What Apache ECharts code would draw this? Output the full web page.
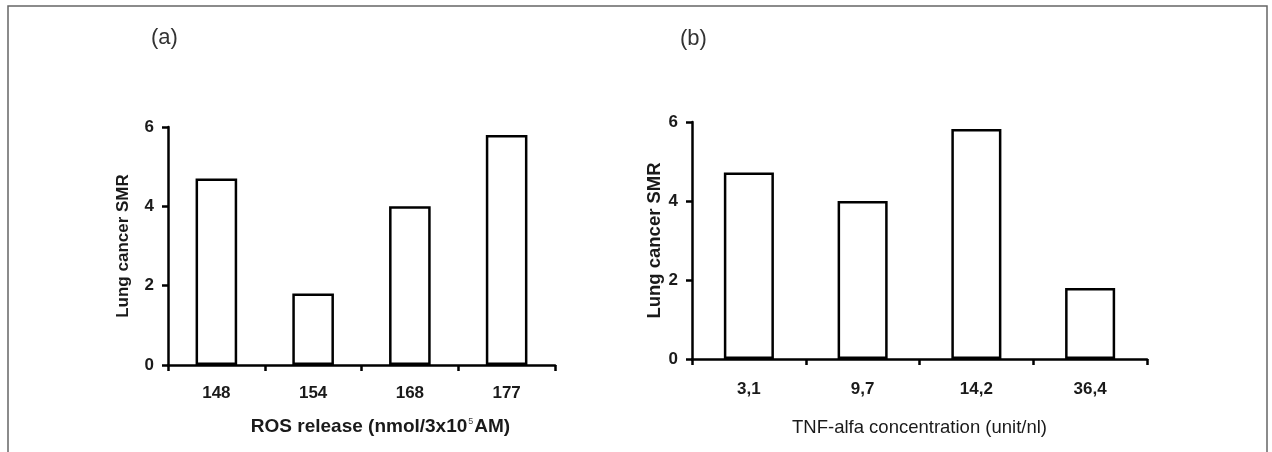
<!DOCTYPE html>
<html>
<head>
<meta charset="utf-8">
<script src="https://cdn.jsdelivr.net/npm/echarts@6/dist/echarts.min.js"></script>
<style>
html,body{margin:0;padding:0;background:#fff;}
#c{width:1272px;height:452px;}
</style>
</head>
<body>
<div id="c"></div>
<script>
const catsA = ['148', '154', '168', '177'];
const valsA = [4.7, 1.8, 4.0, 5.8];
const catsB = ['3,1', '9,7', '14,2', '36,4'];
const valsB = [4.72, 4.0, 5.82, 1.8];
const yTicks = [0, 2, 4, 6];

const FONT = '"Liberation Sans", Arial, sans-serif';
const chart = echarts.init(document.getElementById('c'), null, {renderer: 'canvas'});

function xAxisCfg(idx, cats, name, nameGap, nameStyle) {
  return {
    type: 'category', gridIndex: idx, data: cats,
    axisLine: {lineStyle: {color: '#000', width: 2.5}},
    axisTick: {show: true, inside: false, length: 6, alignWithLabel: false, lineStyle: {color: '#000', width: 2.5}},
    axisLabel: {color: '#1a1a1a', fontFamily: FONT, fontWeight: 'bold', fontSize: 17, margin: idx === 0 ? 20 : 22},
    name: name, nameLocation: 'middle', nameGap: nameGap,
    nameTextStyle: nameStyle
  };
}
function yAxisCfg(idx, nameGap) {
  return {
    type: 'value', gridIndex: idx, min: yTicks[0], max: yTicks[yTicks.length - 1], interval: 2,
    splitLine: {show: false},
    axisLine: {show: true, lineStyle: {color: '#000', width: 2.5}},
    axisTick: {show: true, inside: false, length: 6, lineStyle: {color: '#000', width: 2.5}},
    axisLabel: {color: '#1a1a1a', fontFamily: FONT, fontWeight: 'bold', fontSize: 17, margin: 14},
    name: 'Lung cancer SMR', nameLocation: 'middle', nameGap: nameGap, nameRotate: 90,
    nameTextStyle: {color: '#1a1a1a', fontFamily: FONT, fontWeight: 'bold', fontSize: idx === 0 ? 17 : 18.5}
  };
}

const option = {
  backgroundColor: '#fff',
  animation: false,
  title: [
    {text: '(a)', left: 146, top: 22, textStyle: {color: '#333', fontFamily: FONT, fontWeight: 'normal', fontSize: 22}},
    {text: '(b)', left: 675, top: 23, textStyle: {color: '#333', fontFamily: FONT, fontWeight: 'normal', fontSize: 22}}
  ],
  graphic: [{
    type: 'polyline',
    shape: {points: [[8, 460], [8, 6], [1267, 6], [1267, 460]]},
    style: {stroke: '#666', lineWidth: 1.5, fill: null}
  }],
  grid: [
    {left: 168, top: 127, width: 387, height: 238},
    {left: 692, top: 122, width: 455, height: 237}
  ],
  xAxis: [
    xAxisCfg(0, catsA, 'ROS release (nmol/3x10{s|5}AM)', 52,
      {color: '#1a1a1a', fontFamily: FONT, fontWeight: 'bold', fontSize: 19, padding: [0, 0, 0, 38],
       rich: {s: {fontSize: 9, fontWeight: 'normal', color: '#444', padding: [0, 1, 9, 1]}}}),
    xAxisCfg(1, catsB, 'TNF-alfa concentration (unit/nl)', 59,
      {color: '#1a1a1a', fontFamily: FONT, fontWeight: 'normal', fontSize: 18.5, padding: [0, 0, 0, 0]})
  ],
  yAxis: [yAxisCfg(0, 36), yAxisCfg(1, 26)],
  series: [
    {type: 'bar', xAxisIndex: 0, yAxisIndex: 0, data: valsA, barWidth: '43%',
     itemStyle: {color: '#fff', borderColor: '#000', borderWidth: 2.5}},
    {type: 'bar', xAxisIndex: 1, yAxisIndex: 1, data: valsB, barWidth: '44%',
     itemStyle: {color: '#fff', borderColor: '#000', borderWidth: 2.5}}
  ]
};
chart.setOption(option);
</script>
</body>
</html>
